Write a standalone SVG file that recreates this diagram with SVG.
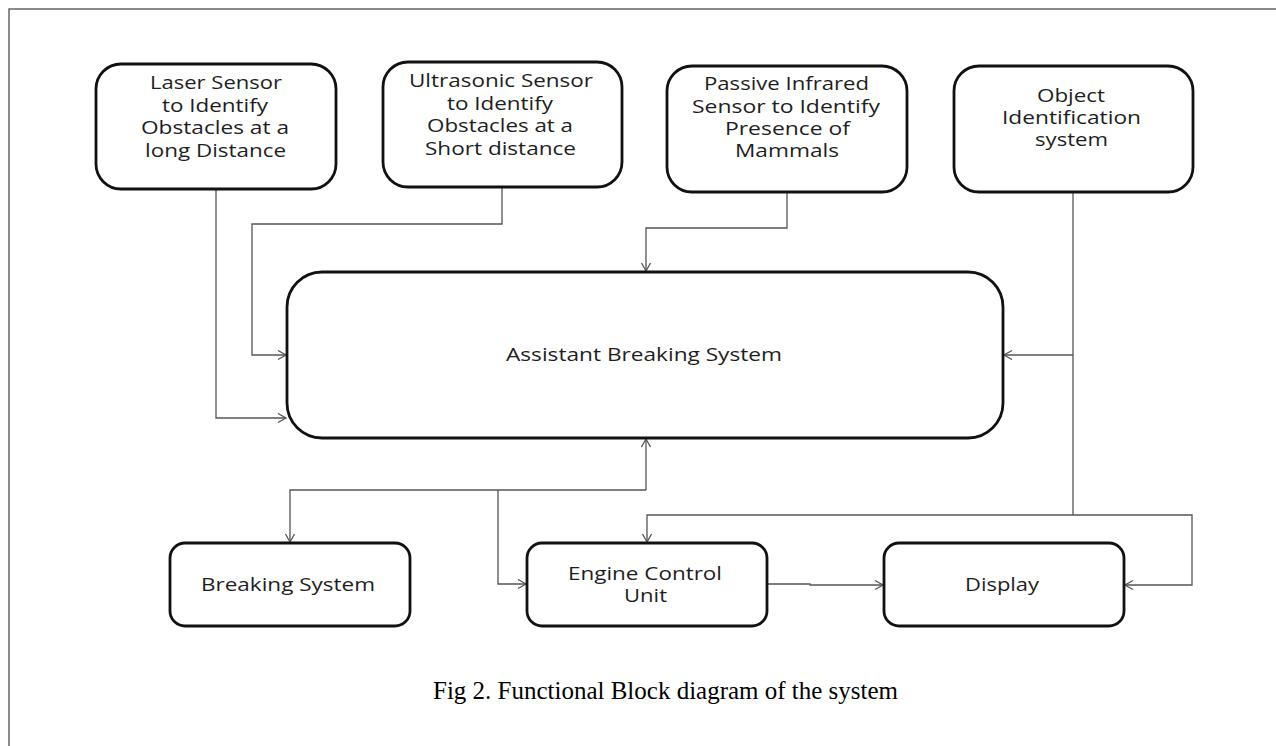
<svg xmlns="http://www.w3.org/2000/svg" width="1276" height="746" viewBox="0 0 1276 746">
<style>
.box{fill:#fff;stroke:#111;stroke-width:2.8}
.t{font-family:"Open Sans","Liberation Sans",sans-serif;font-size:17.5px;fill:#1e1e1e}
.c{fill:none;stroke:#555;stroke-width:1.3}
.cap{font-family:"Liberation Serif","Times New Roman",serif;font-size:24.5px;fill:#000}
</style>
<defs>
<marker id="ar" markerUnits="userSpaceOnUse" markerWidth="12" markerHeight="12" refX="9" refY="5" orient="auto">
<path d="M1,0.5 L9,5 L1,9.5" fill="none" stroke="#555" stroke-width="1.3"/>
</marker>
</defs>
<rect width="1276" height="746" fill="#fff"/>
<path d="M9,746 V9 H1276" fill="none" stroke="#666" stroke-width="1.5"/>

<g id="connectors">
<path class="c" d="M216,189 V418 H286" marker-end="url(#ar)"/>
<path class="c" d="M502,187 V224 H252 V355 H286" marker-end="url(#ar)"/>
<path class="c" d="M787,192 V228 H646 V271" marker-end="url(#ar)"/>
<path class="c" d="M1073,192 V515"/>
<path class="c" d="M1073,355 H1004" marker-end="url(#ar)"/>
<path class="c" d="M646,490 V439" marker-end="url(#ar)"/>
<path class="c" d="M646,490 H290 V542" marker-end="url(#ar)"/>
<path class="c" d="M498,490 V584 H526" marker-end="url(#ar)"/>
<path class="c" d="M1073,515 H647 V542" marker-end="url(#ar)"/>
<path class="c" d="M1073,515 H1192 V585 H1125" marker-end="url(#ar)"/>
<path class="c" d="M767,584 H810 V585 H883" marker-end="url(#ar)"/>
</g>

<g id="laser">
<rect class="box" x="96" y="64" width="240" height="125" rx="25"/>
<text class="t" x="150" y="89" textLength="132" lengthAdjust="spacingAndGlyphs">Laser Sensor</text>
<text class="t" x="162" y="111.5" textLength="106" lengthAdjust="spacingAndGlyphs">to Identify</text>
<text class="t" x="141" y="134" textLength="148" lengthAdjust="spacingAndGlyphs">Obstacles at a</text>
<text class="t" x="145" y="156.5" textLength="141" lengthAdjust="spacingAndGlyphs">long Distance</text>
</g>

<g id="ultrasonic">
<rect class="box" x="383" y="62" width="239" height="125" rx="25"/>
<text class="t" x="409" y="87" textLength="184" lengthAdjust="spacingAndGlyphs">Ultrasonic Sensor</text>
<text class="t" x="447" y="109.5" textLength="106" lengthAdjust="spacingAndGlyphs">to Identify</text>
<text class="t" x="427" y="132" textLength="146" lengthAdjust="spacingAndGlyphs">Obstacles at a</text>
<text class="t" x="425" y="154.5" textLength="151" lengthAdjust="spacingAndGlyphs">Short distance</text>
</g>

<g id="pir">
<rect class="box" x="667" y="66" width="240" height="126" rx="25"/>
<text class="t" x="704" y="90" textLength="165" lengthAdjust="spacingAndGlyphs">Passive Infrared</text>
<text class="t" x="692" y="112.5" textLength="188" lengthAdjust="spacingAndGlyphs">Sensor to Identify</text>
<text class="t" x="725" y="134.5" textLength="125" lengthAdjust="spacingAndGlyphs">Presence of</text>
<text class="t" x="735" y="157" textLength="104" lengthAdjust="spacingAndGlyphs">Mammals</text>
</g>

<g id="object">
<rect class="box" x="954" y="66" width="239" height="126" rx="25"/>
<text class="t" x="1037" y="102" textLength="68" lengthAdjust="spacingAndGlyphs">Object</text>
<text class="t" x="1002" y="124" textLength="139" lengthAdjust="spacingAndGlyphs">Identification</text>
<text class="t" x="1035" y="146" textLength="73" lengthAdjust="spacingAndGlyphs">system</text>
</g>

<g id="abs">
<rect class="box" x="287" y="272" width="716" height="166" rx="35"/>
<text class="t" x="506" y="361" textLength="276" lengthAdjust="spacingAndGlyphs">Assistant Breaking System</text>
</g>

<g id="breaking">
<rect class="box" x="170" y="543" width="240" height="83" rx="15"/>
<text class="t" x="201" y="591" textLength="174" lengthAdjust="spacingAndGlyphs">Breaking System</text>
</g>

<g id="ecu">
<rect class="box" x="527" y="543" width="240" height="83" rx="15"/>
<text class="t" x="568" y="580" textLength="154" lengthAdjust="spacingAndGlyphs">Engine Control</text>
<text class="t" x="624" y="602" textLength="43" lengthAdjust="spacingAndGlyphs">Unit</text>
</g>

<g id="display">
<rect class="box" x="884" y="543" width="240" height="83" rx="15"/>
<text class="t" x="965" y="591" textLength="74" lengthAdjust="spacingAndGlyphs">Display</text>
</g>

<text class="cap" x="433" y="699" textLength="465" lengthAdjust="spacingAndGlyphs">Fig 2. Functional Block diagram of the system</text>
</svg>
